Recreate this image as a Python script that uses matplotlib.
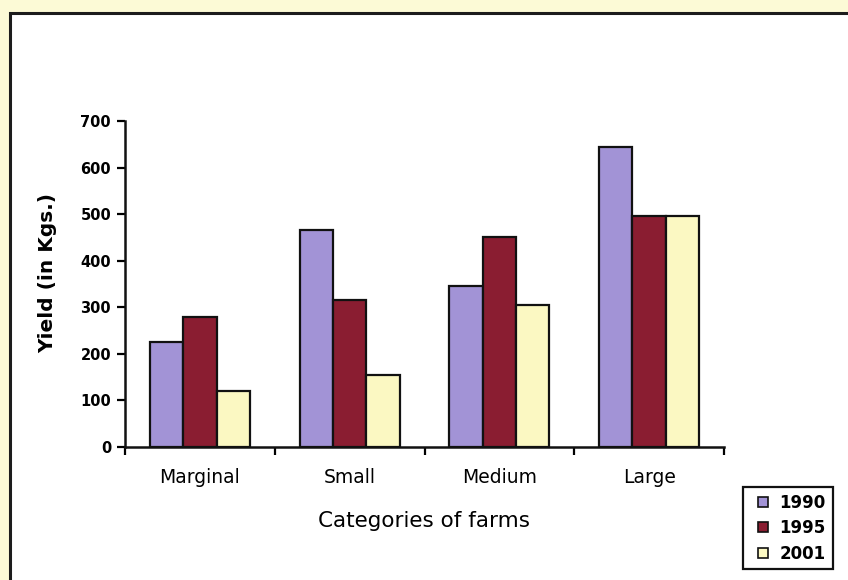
import matplotlib
matplotlib.use("Agg")
import matplotlib.pyplot as plt
from matplotlib.patches import Rectangle
from matplotlib.lines import Line2D
import numpy as np

categories = ["Marginal", "Small", "Medium", "Large"]
years = ["1990", "1995", "2001"]
yield_1990 = [225, 465, 345, 645]
yield_1995 = [280, 315, 450, 495]
yield_2001 = [120, 155, 305, 495]
yticks = [0, 100, 200, 300, 400, 500, 600, 700]

colors = ["#a293d6", "#8a1d31", "#fbf8c2"]

W, H = 848, 580
fig = plt.figure(figsize=(W / 100, H / 100), dpi=100)
fig.patch.set_facecolor("#fcfad6")

# white panel with dark frame, behind the axes
frame = Rectangle((10 / W, -0.1), 1.2, (H - 13) / H + 0.1, transform=fig.transFigure,
                  facecolor="white", edgecolor="#1c1c1c", linewidth=2.2, zorder=-1)
fig.patches.append(frame)

ax = fig.add_axes([125 / W, (H - 447) / H, 599 / W, 326 / H])
ax.set_facecolor("none")
ax.set_zorder(2)

x = np.arange(len(categories))
bw = 1 / 4.5
series = [yield_1990, yield_1995, yield_2001]
for i, (vals, c, lab) in enumerate(zip(series, colors, years)):
    ax.bar(x + (i - 1) * bw, vals, width=bw, color=c, edgecolor="#111111",
           linewidth=1.6, label=lab, zorder=3)

ax.set_xlim(-0.5, 3.5)
ax.set_ylim(0, 700)
ax.set_yticks(yticks)
ax.set_yticklabels([str(t) for t in yticks], fontsize=10.5, fontweight="bold",
                   family="DejaVu Sans")
ax.set_xticks(np.arange(-0.5, 4.0, 1.0), minor=False)
ax.set_xticklabels([])
ax.set_xticks(x, minor=True)
ax.set_xticklabels(categories, minor=True, fontsize=13.5, family="DejaVu Sans")
ax.tick_params(axis="x", which="minor", length=0, pad=15)
ax.tick_params(axis="x", which="major", direction="out", length=6, width=1.6)
ax.tick_params(axis="y", direction="out", length=6, width=1.6, pad=4)

for s in ["top", "right"]:
    ax.spines[s].set_visible(False)
for s in ["left", "bottom"]:
    ax.spines[s].set_linewidth(1.8)
    ax.spines[s].set_color("#111111")

fig.text(48 / W, 1 - 273 / H, "Yield (in Kgs.)", rotation=90, ha="center", va="center",
         fontsize=14.5, fontweight="bold", family="DejaVu Sans")
fig.text(424 / W, 1 - 521 / H, "Categories of farms", ha="center", va="center",
         fontsize=15.5, family="DejaVu Sans")

# legend with small square swatches
handles = [Line2D([], [], linestyle="none", marker="s", markersize=7.5,
                  markerfacecolor=c, markeredgecolor="#111111", markeredgewidth=1.2)
           for c in colors]
leg = ax.legend(handles, years, loc="upper left", bbox_to_anchor=(743 / W, 1 - 487 / H),
                bbox_transform=fig.transFigure, frameon=True, fancybox=False,
                framealpha=1.0,
                prop={"weight": "bold", "family": "DejaVu Sans", "size": 12},
                handlelength=1.6, handletextpad=0.2,
                labelspacing=0.45, borderpad=0.4, borderaxespad=0)
leg.get_frame().set_edgecolor("#111111")
leg.get_frame().set_linewidth(1.6)

fig.savefig("out.png", dpi=100)
